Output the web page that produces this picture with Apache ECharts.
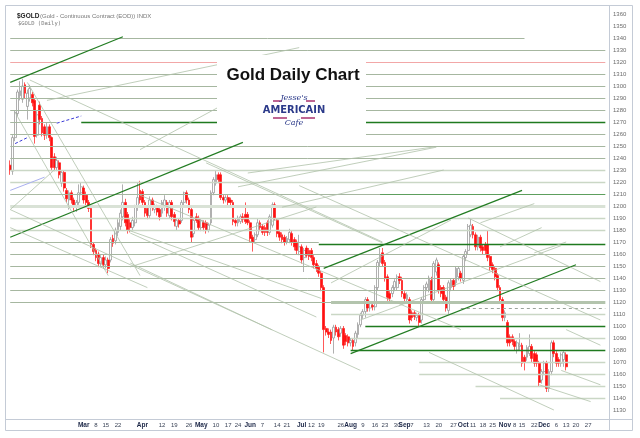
<!DOCTYPE html>
<html>
<head>
<meta charset="utf-8">
<script src="https://cdn.jsdelivr.net/npm/echarts@6/dist/echarts.min.js"></script>
<style>html,body{margin:0;padding:0;background:#fff}#main{width:640px;height:438px}</style>
</head>
<body>
<div id="main"></div>
<script>
// number of daily slots on the x axis (candles stop before the end)
var slotCount = 245;

// daily candles: [open, close, low, high]
var goldOHLC = [
  [1234,1230,1226,1238],[1229,1257,1226,1259],[1257,1278,1254,1280],[1277,1295,1275,1297],[1292,1296,1288,1304],
  [1289,1300,1286,1306],[1301,1294,1290,1303],[1283,1294,1272,1297],[1290,1298,1287,1301],[1293,1286,1283,1295],
  [1288,1258,1252,1290],[1259,1276,1257,1279],[1284,1272,1268,1287],[1273,1261,1258,1275],[1266,1259,1255,1268],
  [1259,1266,1256,1270],[1266,1257,1254,1268],[1257,1232,1229,1258],[1241,1232,1229,1244],[1232,1238,1229,1241],
  [1236,1226,1223,1238],[1219,1228,1216,1230],[1228,1215,1212,1230],[1213,1206,1203,1215],[1205,1211,1197,1213],
  [1211,1205,1202,1213],[1205,1201,1196,1207],[1200,1203,1195,1205],[1203,1211,1201,1218],[1211,1216,1209,1220],
  [1215,1205,1202,1217],[1209,1203,1200,1212],[1203,1198,1195,1205],[1198,1168,1165,1200],[1168,1162,1159,1170],
  [1163,1157,1154,1165],[1160,1152,1149,1162],[1152,1157,1149,1159],[1157,1151,1148,1160],[1151,1155,1148,1158],
  [1155,1148,1144,1157],[1155,1172,1153,1174],[1173,1169,1166,1176],[1171,1180,1168,1182],[1178,1186,1175,1189],
  [1183,1194,1180,1197],[1191,1203,1188,1218],[1203,1186,1183,1206],[1193,1180,1177,1195],[1186,1182,1178,1189],
  [1182,1188,1179,1191],[1186,1199,1183,1201],[1199,1207,1196,1220],[1213,1205,1202,1221],[1212,1203,1200,1214],
  [1203,1194,1191,1205],[1198,1192,1189,1200],[1192,1205,1190,1208],[1205,1199,1196,1207],[1197,1199,1194,1202],
  [1199,1195,1192,1201],[1197,1191,1188,1199],[1194,1203,1191,1205],[1199,1205,1196,1209],[1203,1194,1191,1205],
  [1192,1203,1190,1205],[1203,1191,1188,1205],[1193,1187,1183,1195],[1183,1188,1180,1190],[1188,1185,1182,1190],
  [1188,1203,1186,1205],[1203,1211,1200,1212],[1211,1205,1202,1213],[1205,1197,1194,1207],[1197,1174,1170,1199],
  [1177,1188,1174,1190],[1191,1188,1186,1194],[1190,1182,1180,1192],[1182,1188,1179,1190],[1186,1182,1179,1188],
  [1186,1180,1177,1188],[1180,1184,1178,1186],[1186,1211,1184,1213],[1211,1222,1209,1224],[1219,1226,1217,1230],
  [1226,1222,1219,1228],[1226,1207,1205,1228],[1207,1205,1202,1209],[1205,1207,1203,1209],[1207,1203,1200,1209],
  [1205,1203,1200,1207],[1203,1187,1184,1205],[1188,1186,1183,1190],[1186,1190,1183,1192],[1187,1191,1185,1193],
  [1191,1189,1186,1194],[1193,1187,1185,1203],[1193,1186,1184,1195],[1186,1173,1170,1188],[1174,1170,1162,1176],
  [1172,1176,1169,1178],[1176,1186,1174,1190],[1186,1182,1179,1188],[1183,1178,1176,1185],[1182,1178,1175,1184],
  [1186,1178,1175,1188],[1178,1191,1176,1193],[1184,1201,1182,1203],[1201,1190,1188,1203],[1188,1177,1174,1190],
  [1178,1174,1171,1180],[1176,1172,1169,1178],[1174,1170,1167,1176],[1170,1173,1168,1175],[1172,1178,1169,1181],
  [1177,1170,1167,1179],[1172,1166,1163,1174],[1170,1163,1160,1172],[1162,1166,1159,1176],[1166,1155,1152,1168],
  [1157,1163,1145,1165],[1165,1159,1157,1167],[1163,1158,1155,1165],[1163,1157,1154,1165],[1157,1151,1148,1159],
  [1152,1148,1145,1155],[1149,1144,1141,1151],[1144,1132,1129,1146],[1132,1097,1078,1134],[1098,1095,1092,1100],
  [1095,1093,1090,1098],[1095,1088,1085,1097],[1090,1099,1077,1101],[1099,1095,1092,1101],[1097,1091,1088,1099],
  [1094,1098,1091,1100],[1098,1084,1081,1100],[1092,1087,1084,1094],[1091,1086,1083,1093],[1086,1088,1083,1090],
  [1088,1083,1080,1090],[1086,1094,1083,1096],[1093,1101,1090,1103],[1101,1109,1099,1111],[1109,1112,1106,1114],
  [1112,1122,1107,1124],[1122,1115,1112,1124],[1115,1119,1112,1121],[1117,1116,1113,1120],[1116,1132,1113,1134],
  [1132,1153,1130,1155],[1153,1159,1150,1165],[1161,1152,1150,1165],[1153,1140,1137,1155],[1141,1124,1121,1143],
  [1127,1123,1120,1129],[1127,1132,1124,1134],[1132,1137,1129,1139],[1132,1141,1130,1143],[1141,1138,1135,1144],
  [1138,1127,1124,1141],[1127,1123,1120,1129],[1122,1126,1119,1128],[1122,1105,1102,1124],[1111,1107,1104,1113],
  [1111,1108,1105,1113],[1107,1109,1104,1111],[1109,1103,1100,1111],[1105,1122,1102,1124],[1122,1132,1119,1134],
  [1132,1135,1129,1137],[1130,1140,1128,1142],[1138,1122,1119,1141],[1122,1152,1119,1154],[1145,1155,1142,1157],
  [1151,1130,1127,1153],[1132,1127,1124,1134],[1132,1122,1119,1134],[1124,1115,1112,1126],[1113,1136,1110,1138],
  [1132,1138,1129,1140],[1138,1133,1130,1140],[1136,1148,1133,1150],[1141,1148,1138,1150],[1144,1140,1137,1146],
  [1138,1158,1135,1160],[1157,1162,1154,1164],[1163,1183,1160,1185],[1176,1184,1174,1190],[1183,1176,1173,1185],
  [1176,1166,1163,1178],[1166,1174,1163,1176],[1174,1165,1162,1176],[1166,1163,1160,1168],[1168,1163,1160,1170],
  [1168,1157,1154,1180],[1158,1149,1146,1160],[1151,1147,1144,1153],[1148,1141,1138,1150],[1142,1132,1129,1144],
  [1132,1122,1119,1134],[1122,1107,1104,1124],[1107,1111,1104,1113],[1103,1086,1083,1105],[1091,1086,1083,1093],
  [1091,1087,1084,1093],[1087,1083,1080,1089],[1080,1086,1077,1088],[1083,1084,1080,1094],[1084,1069,1066,1086],
  [1074,1070,1063,1076],[1074,1082,1071,1084],[1077,1083,1075,1093],[1083,1073,1070,1085],[1077,1069,1066,1079],
  [1076,1069,1066,1078],[1069,1053,1050,1071],[1055,1062,1052,1064],[1062,1069,1059,1071],[1069,1048,1045,1071],
  [1048,1062,1045,1064],[1062,1086,1059,1088],[1086,1077,1074,1088],[1077,1069,1066,1079],[1072,1069,1066,1074],
  [1069,1076,1066,1078],[1072,1078,1066,1079],[1076,1066,1063,1078]
];

// x axis labels: slot index and text
var xLabelIdx = [30,35,39,44,54,62,67,73,78,84,89,93,98,103,109,113,119,123,127,135,139,144,149,153,158,161,164,170,175,181,185,189,193,197,202,206,209,214,218,223,227,231,236];
var xLabelText = ['Mar','8','15','22','Apr','12','19','26','May','10','17','24','Jun','7','14','21','Jul','12','19','26','Aug','9','16','23','30','Sep','7','13','20','27','Oct','11','18','25','Nov','8','15','22','Dec','6','13','20','27'];
var monthNames = ['Mar','Apr','May','Jun','Jul','Aug','Sep','Oct','Nov','Dec'];

// y axis ticks (the bottom four labels are printed like this on the original)
var yTickValues = [1360,1350,1340,1330,1320,1310,1300,1290,1280,1270,1260,1250,1240,1230,1220,1210,1200,1190,1180,1170,1160,1150,1140,1130,1120,1110,1100,1090,1080,1070,1060,1050,1040,1030];
var yTickLabels = ['1360','1350','1340','1330','1320','1310','1300','1290','1280','1270','1260','1250','1240','1230','1220','1210','1200','1190','1180','1170','1160','1150','1140','1130','1120','1110','1100','1090','1080','1070','1160','1150','1140','1130'];

// horizontal levels: [price, from slot, to slot, kind]
var levelLines = [
  [1340,-0.5,210,'grey'],[1330,-0.5,243,'grey'],[1320,-0.5,243,'pink'],[1310,-0.5,243,'grey'],
  [1300,-0.5,243,'grey'],[1290,-0.5,243,'grey'],[1280,-0.5,243,'grey'],[1270,-0.5,19,'grey'],
  [1270,28.5,243,'dark'],[1260,-0.5,243,'grey'],[1250,-0.5,243,'grey'],[1240,-0.5,243,'grey'],
  [1230,-0.5,243,'light'],[1220,-0.5,243,'light'],[1210,-0.5,151,'grey'],[1210,151,243,'mid'],
  [1200,-0.5,243,'pale'],[1190,-0.5,243,'light'],[1180,-0.5,243,'light'],[1170,-0.5,126,'grey'],
  [1168,126,243,'dark'],[1160,-0.5,243,'grey'],[1150,-0.5,243,'grey'],[1140,-0.5,243,'grey'],
  [1130,-0.5,243,'grey'],[1120,-0.5,131,'grey'],[1120,131,243,'thick'],[1115,184,243,'dash'],
  [1110,131,243,'light'],[1100,145,243,'dark'],[1090,139,243,'light'],[1080,139,243,'dark'],
  [1070,167,243,'light'],[1060,167,243,'light'],[1050,190,243,'light'],[1040,200,243,'light']
];

// trend lines: [from slot, from price, to slot, to price, kind]
var trendLines = [
  [-0.5,1303,45.7,1341,'dkdiag'],[-0.1,1174,95.1,1253,'dkdiag'],[127.7,1148,208.5,1213,'dkdiag'],[138.7,1077,230.6,1151,'dkdiag'],
  [7.3,1303,53,1142,'diag'],[2,1278,39.9,1142,'diag'],[8.1,1305,151.8,1170,'diag'],[-0.1,1197,142.8,1063,'diag'],
  [-0.1,1182,55.9,1132,'diag'],[47.7,1180,126.5,1123,'diag'],[53,1209,183.7,1097,'diag'],[118.3,1217,240.8,1105,'diag'],
  [186.9,1190,240.8,1137,'diag'],[171.4,1078,221.6,1030,'diag'],[216.3,1051,236.8,1037,'diag'],[224.5,1063,240.8,1051,'diag'],
  [226.5,1097,240.8,1084,'diag'],[15,1288,118.3,1332,'diag'],[53,1247,102,1301,'diag'],[92.6,1216,173.5,1249,'diag'],
  [111.4,1199,176.7,1230,'diag'],[191.8,1186,213.5,1202,'diag'],[200,1166,217.2,1182,'diag'],[213.5,1161,227.4,1170,'diag'],
  [142.8,1105,224.5,1167,'diag'],[-0.1,1197,18.3,1230,'diag'],
  [48.9,1177.5,125.3,1107.5,'diag'],[48.9,1152.5,107.4,1096.7,'diag'],[80.4,1235.9,152.2,1169.2,'diag'],
  [96.7,1227.5,172.6,1249.2,'diag'],[48.9,1149.2,125.3,1199.2,'diag'],[130.6,1135.9,179.6,1188.4,'diag'],
  [2,1252,7.3,1257,'blue'],[19.1,1269,28.5,1275,'blue'],[-0.5,1213,14.2,1224,'paleblue']
];

var kindStyle = {
  grey: {color: '#a6b7a0', width: 1, type: 'solid'},
  light: {color: '#cad7c5', width: 1.3, type: 'solid'},
  pale: {color: '#d9e2d6', width: 3, type: 'solid'},
  dark: {color: '#1f7a1f', width: 1.4, type: 'solid'},
  mid: {color: '#5d9f5d', width: 1.2, type: 'solid'},
  pink: {color: '#f2a7a7', width: 1, type: 'solid'},
  thick: {color: '#b3c4ad', width: 3, type: 'solid'},
  dash: {color: '#9aa39a', width: 1, type: [3, 3]},
  diag: {color: '#b0c2aa', width: 0.8, type: 'solid'},
  dkdiag: {color: '#237d23', width: 1.2, type: 'solid'},
  blue: {color: '#3a3ad6', width: 1, type: [3, 2]},
  paleblue: {color: '#aab0f0', width: 1, type: 'solid'}
};

var categories = [];
for (var i = 0; i < slotCount; i++) categories.push(String(i));
var labelAt = {};
xLabelIdx.forEach(function (k, j) { labelAt[k] = xLabelText[j]; });

var markData = [];
levelLines.forEach(function (r) {
  markData.push([{coord: [r[1], r[0]], lineStyle: kindStyle[r[3]]}, {coord: [r[2], r[0]]}]);
});
trendLines.forEach(function (r) {
  markData.push([{coord: [r[0], r[1]], lineStyle: kindStyle[r[4]]}, {coord: [r[2], r[3]]}]);
});

var chart = echarts.init(document.getElementById('main'), null, {renderer: 'canvas'});
var sans = 'Liberation Sans, Arial, sans-serif';

chart.setOption({
  animation: false,
  backgroundColor: '#ffffff',
  grid: {left: 9, top: 5, width: 600, height: 414, containLabel: false, outerBoundsMode: 'none'},
  xAxis: {
    type: 'category',
    data: categories,
    boundaryGap: true,
    axisLine: {show: false},
    axisTick: {show: false},
    splitLine: {show: false},
    axisLabel: {
      interval: 0,
      margin: 3,
      fontSize: 6,
      fontFamily: sans,
      color: '#3a4356',
      formatter: function (v, idx) {
        var t = labelAt[idx];
        if (!t) return '';
        return monthNames.indexOf(t) >= 0 ? '{m|' + t + '}' : t;
      },
      rich: {m: {fontWeight: 'bold', color: '#1c2747', fontSize: 6.5, fontFamily: sans}}
    }
  },
  yAxis: {
    type: 'value',
    position: 'right',
    min: 1022.5,
    max: 1367.5,
    axisLine: {show: false},
    axisTick: {show: false},
    splitLine: {show: false},
    axisLabel: {
      customValues: yTickValues,
      margin: 4,
      fontSize: 6,
      fontFamily: sans,
      color: '#6b6b6b',
      formatter: function (v) {
        var k = yTickValues.indexOf(Math.round(v));
        return k >= 0 ? yTickLabels[k] : '';
      }
    }
  },
  series: [
    {
      type: 'line',
      data: [],
      z: 1,
      silent: true,
      markLine: {silent: true, symbol: 'none', animation: false, label: {show: false}, lineStyle: {type: 'solid'}, emphasis: {disabled: true}, data: markData}
    },
    {
      type: 'candlestick',
      z: 3,
      barWidth: 2.3,
      data: goldOHLC,
      itemStyle: {color: '#ffffff', borderColor: '#8e8e8e', color0: '#ff1111', borderColor0: '#ff1111', borderWidth: 0.7}
    }
  ],
  graphic: [
    {type: 'rect', z: 100, shape: {x: 217, y: 55, width: 149, height: 83}, style: {fill: '#ffffff'}},
    {type: 'text', z: 101, style: {x: 293, y: 75, text: 'Gold Daily Chart', font: 'bold 17px Liberation Sans, Arial, sans-serif', fill: '#111', align: 'center', verticalAlign: 'middle'}},
    {type: 'line', z: 101, shape: {x1: 273, y1: 101, x2: 282, y2: 101}, style: {stroke: '#a8326e', lineWidth: 1.5}},
    {type: 'line', z: 101, shape: {x1: 306, y1: 101, x2: 315, y2: 101}, style: {stroke: '#a8326e', lineWidth: 1.5}},
    {type: 'text', z: 101, style: {x: 294, y: 98, text: "Jesse's", font: 'italic 8px DejaVu Serif, serif', fill: '#2b3a8a', align: 'center', verticalAlign: 'middle'}},
    {type: 'text', z: 101, style: {x: 294, y: 110, text: 'AMERICAIN', font: 'bold 11px DejaVu Sans Condensed, Liberation Sans Narrow, sans-serif', fill: '#2b3a8a', align: 'center', verticalAlign: 'middle'}},
    {type: 'line', z: 101, shape: {x1: 273, y1: 118, x2: 287, y2: 118}, style: {stroke: '#a8326e', lineWidth: 1.5}},
    {type: 'line', z: 101, shape: {x1: 301, y1: 118, x2: 315, y2: 118}, style: {stroke: '#a8326e', lineWidth: 1.5}},
    {type: 'text', z: 101, style: {x: 294, y: 123, text: 'Cafe', font: 'italic 8px DejaVu Serif, serif', fill: '#2b3a8a', align: 'center', verticalAlign: 'middle'}},
    {type: 'text', z: 101, style: {x: 17, y: 16, text: '$GOLD', font: 'bold 6.5px Liberation Sans, Arial, sans-serif', fill: '#222', verticalAlign: 'middle'}},
    {type: 'text', z: 101, style: {x: 40, y: 16, text: '(Gold - Continuous Contract (EOD)) INDX', font: '6px Liberation Sans, Arial, sans-serif', fill: '#777', verticalAlign: 'middle'}},
    {type: 'text', z: 101, style: {x: 18, y: 24, text: '$GOLD (Daily)', font: '5.5px DejaVu Sans Mono, monospace', fill: '#777', verticalAlign: 'middle'}},
    {type: 'rect', z: 102, shape: {x: 5.5, y: 5.5, width: 627, height: 425}, style: {fill: 'none', stroke: '#c4cbd6', lineWidth: 1}},
    {type: 'line', z: 102, shape: {x1: 5, y1: 419.5, x2: 633, y2: 419.5}, style: {stroke: '#c4cbd6', lineWidth: 1}},
    {type: 'line', z: 102, shape: {x1: 609.5, y1: 5, x2: 609.5, y2: 431}, style: {stroke: '#c4cbd6', lineWidth: 1}}
  ]
});
</script>
</body>
</html>
